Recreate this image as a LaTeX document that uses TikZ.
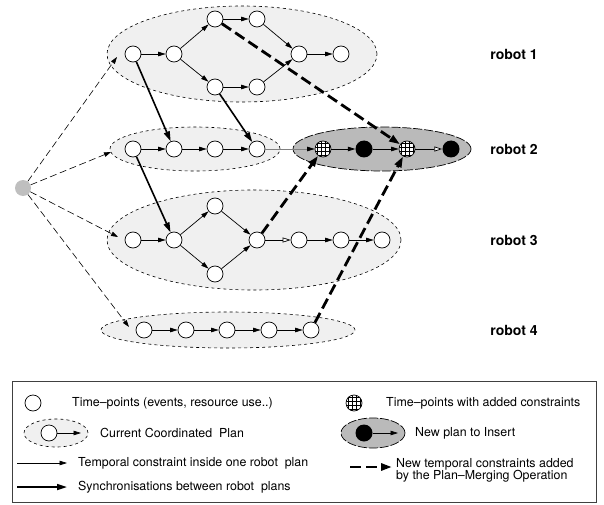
\documentclass[tikz,border=0pt]{standalone}
\usepackage{fontspec}
\setmainfont{TeX Gyre Heros}
\usetikzlibrary{arrows.meta,shapes.geometric}

\begin{document}
\begin{tikzpicture}[x=1pt,y=-1pt,
          tp/.style={circle, draw, line width=0.7pt, fill=white, minimum size=16pt, inner sep=0pt},
          tpnew/.style={circle, fill=black, minimum size=17pt, inner sep=0pt},
          tpmod/.style={circle, draw, line width=0.7pt, fill=white, minimum size=16pt, inner sep=0pt,
            path picture={\foreach \k in {-6,-2,2,6} {
              \draw[line width=0.5pt] ([xshift=\k pt]path picture bounding box.north) -- ([xshift=\k pt]path picture bounding box.south);
              \draw[line width=0.5pt] ([yshift=\k pt]path picture bounding box.west) -- ([yshift=\k pt]path picture bounding box.east);}}},
          cplan/.style={ellipse, draw, dashed, fill=black!6, line width=0.6pt, inner sep=0pt},
          nplan/.style={ellipse, draw, dash pattern=on 9pt off 2pt, fill=black!27, line width=0.7pt, inner sep=0pt},
          tc/.style={line width=0.7pt, -{Triangle[length=7.5pt,width=4.5pt]}},
          tcopen/.style={line width=0.7pt, -{Triangle[open,fill=white,length=8pt,width=5pt]}},
          sync/.style={line width=1.6pt, -{Triangle[length=10pt,width=6pt]}},
          merge/.style={line width=2.8pt, dash pattern=on 11pt off 5pt, -{Triangle[length=11pt,width=7pt]}},
          init/.style={line width=0.6pt, dash pattern=on 7pt off 3.5pt, -{Triangle[length=7pt,width=4.5pt]}},
          rlabel/.style={font=\fontsize{14}{16}\selectfont\bfseries},
          legtext/.style={font=\fontsize{12.4}{12}\selectfont, anchor=west, inner sep=0pt, align=left},
        ]
        \useasboundingbox (0,0) rectangle (604,505);
        % plans
        \node[cplan, minimum width=270pt, minimum height=96pt] (r1) at (242,54) {};
        \node[cplan, minimum width=170pt, minimum height=44pt] (r2) at (195,149) {};
        \node[nplan, minimum width=178pt, minimum height=44pt] (r2new) at (382,149) {};
        \node[cplan, minimum width=294pt, minimum height=100pt] (r3) at (254,240) {};
        \node[cplan, minimum width=254pt, minimum height=36pt] (r4) at (228,330) {};

        \node[circle, fill=black!25, minimum size=16pt, inner sep=0pt] (src) at (23,188) {};
        \coordinate (in1) at (117,57);
        \coordinate (in2) at (111,152);
        \coordinate (in3) at (118,237);
        \coordinate (in4) at (129,327);

        % robot 1
        \node[tp] (a1) at (133,54) {};
        \node[tp] (a2) at (174,54) {};
        \node[tp] (a3) at (215,19) {};
        \node[tp] (a4) at (257,19) {};
        \node[tp] (a5) at (299,54) {};
        \node[tp] (a6) at (341,54) {};
        \node[tp] (a7) at (215,87) {};
        \node[tp] (a8) at (257,87) {};
        % robot 2
        \node[tp] (b1) at (133,149) {};
        \node[tp] (b2) at (174,149) {};
        \node[tp] (b3) at (215,149) {};
        \node[tp] (b4) at (257,149) {};
        \node[tpmod] (c1) at (323,149) {};
        \node[tpnew] (c2) at (364,149) {};
        \node[tpmod] (c3) at (407,149) {};
        \node[tpnew] (c4) at (451,149) {};
        % robot 3
        \node[tp] (d1) at (133,240) {};
        \node[tp] (d2) at (174,240) {};
        \node[tp] (d3) at (215,206) {};
        \node[tp] (d4) at (257,240) {};
        \node[tp] (d5) at (215,274) {};
        \node[tp] (d6) at (299,240) {};
        \node[tp] (d7) at (341,240) {};
        \node[tp] (d8) at (382,240) {};
        % robot 4
        \node[tp] (e1) at (144,330) {};
        \node[tp] (e2) at (186,330) {};
        \node[tp] (e3) at (227,330) {};
        \node[tp] (e4) at (269,330) {};
        \node[tp] (e5) at (311,330) {};

        \draw[init] (src) -- (in1);
        \draw[init] (src) -- (in2);
        \draw[init] (src) -- (in3);
        \draw[init] (src) -- (in4);

        \draw[tc] (a1) -- (a2);
        \draw[tc] (a2) -- (a3);
        \draw[tc] (a3) -- (a4);
        \draw[tc] (a4) -- (a5);
        \draw[tc] (a5) -- (a6);
        \draw[tc] (a2) -- (a7);
        \draw[tc] (a7) -- (a8);
        \draw[tc] (a8) -- (a5);

        \draw[tc] (b1) -- (b2);
        \draw[tc] (b2) -- (b3);
        \draw[tc] (b3) -- (b4);
        \draw[line width=0.7pt, draw=black!50, -{Triangle[length=7.5pt,width=4.5pt,color=black]}] (b4) -- (c1);
        \draw[tc] (c1) -- (c2);
        \draw[tc] (c2) -- (c3);
        \draw[tcopen] (c3) -- (c4);

        \draw[tc] (d1) -- (d2);
        \draw[tc] (d2) -- (d3);
        \draw[tc] (d2) -- (d5);
        \draw[tc] (d3) -- (d4);
        \draw[tc] (d5) -- (d4);
        \draw[tcopen] (d4) -- (d6);
        \draw[tc] (d6) -- (d7);
        \draw[tc] (d7) -- (d8);

        \draw[tc] (e1) -- (e2);
        \draw[tc] (e2) -- (e3);
        \draw[tc] (e3) -- (e4);
        \draw[tc] (e4) -- (e5);

        \draw[sync] (a1) -- (b2);
        \draw[sync] (a7) -- (b4);
        \draw[sync] (b1) -- (d2);

        \draw[merge] (a3) -- (c3);
        \draw[merge] (d4) -- (c1);
        \draw[merge] (e5) -- (c3);

        \node[rlabel] (l1) at (514,54) {robot 1};
        \node[rlabel] (l2) at (514,149) {robot 2};
        \node[rlabel] (l3) at (514,240) {robot 3};
        \node[rlabel] (l4) at (514,330) {robot 4};

        % legend
        \draw[line width=0.6pt, draw=black!75] (12,381) rectangle (596,502);
        \node[tp] (k1) at (33,403) {};
        \node[legtext] (k1t) at (72,403) {Time–points (events, resource use..)};
        \node[cplan, minimum width=64pt, minimum height=28pt] (k2) at (56,433) {};
        \node[tp] (k2a) at (49,433) {};
        \coordinate (k2b) at (81,433);
        \draw[tc] (k2a) -- (k2b);
        \node[legtext] (k2t) at (100,433) {Current Coordinated\ \ Plan};
        \coordinate (k3a) at (17,463);
        \coordinate (k3b) at (67,463);
        \draw[tc] (k3a) -- (k3b);
        \node[legtext] (k3t) at (78,463) {Temporal constraint inside one robot\ \ plan};
        \coordinate (k4a) at (17,487);
        \coordinate (k4b) at (67,487);
        \draw[sync] (k4a) -- (k4b);
        \node[legtext] (k4t) at (78,487) {Synchronisations between robot\ \ plans};

        \node[tpmod] (m1) at (354,403) {};
        \node[legtext] (m1t) at (386,403) {Time–points with added constraints};
        \node[nplan, minimum width=64pt, minimum height=30pt] (m2) at (373,433) {};
        \node[tpnew] (m2a) at (364,433) {};
        \coordinate (m2b) at (398,433);
        \draw[tc] (m2a) -- (m2b);
        \node[legtext] (m2t) at (415,433) {New plan to Insert};
        \coordinate (m3a) at (350,467);
        \coordinate (m3b) at (392,467);
        \draw[merge] (m3a) -- (m3b);
        \node[legtext] (m3t) at (396,470) {New temporal constraints added\\by the Plan–Merging Operation};
      \end{tikzpicture}
\end{document}
